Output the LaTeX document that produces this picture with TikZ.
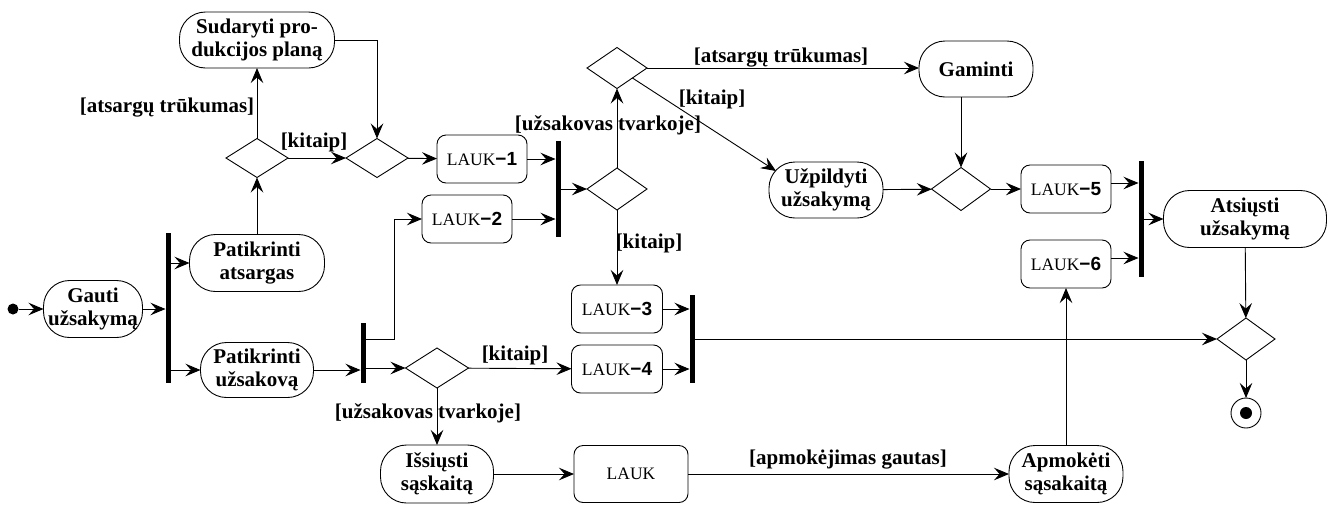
\documentclass[tikz,border=0pt]{standalone}
\usepackage{fontspec}
\setmainfont{Liberation Serif}
\newfontfamily\numfont{Liberation Sans}
\usetikzlibrary{arrows.meta,shapes.geometric,calc}

% waiting state label: serif word, sans number
\newcommand{\waitlabel}[1]{LAUK{\numfont\bfseries\fontsize{19}{20}\selectfont −#1}}

\begin{document}
\begin{tikzpicture}[x=1pt,y=-1pt,
  every node/.style={inner sep=0pt, outer sep=0pt},
  flow/.style={-{Stealth[length=15pt,width=12.5pt,inset=5.5pt]}, line width=0.9pt},
  act/.style={draw, line width=0.9pt, rounded corners=26pt, align=center,
    font=\bfseries\fontsize{21}{23}\selectfont},
  waitbox/.style={draw, line width=0.9pt, rounded corners=9pt,
    font=\fontsize{17.5}{20}\selectfont, minimum width=90pt, minimum height=48pt},
  choice/.style={draw, diamond, line width=0.9pt, minimum width=60pt, minimum height=41pt},
  syncbar/.style={fill=black, minimum width=5pt},
  guard/.style={font=\bfseries\fontsize{21}{23}\selectfont},
]
\useasboundingbox (0,0) rectangle (1337,504);

% start and end
\node[circle, fill=black, minimum size=11pt] (init) at (13,309) {};
\node[circle, draw, line width=0.9pt, minimum size=30pt] (fin) at (1246,413) {};
\node[circle, fill=black, minimum size=12pt] (finDot) at (1246,413) {};

% activities
\node[act, minimum width=99pt, minimum height=57pt] (gauti) at (93,309) {Gauti\\užsakymą};
\node[act, minimum width=135pt, minimum height=57pt] (patA) at (257,263) {Patikrinti\\atsargas};
\node[act, minimum width=113pt, minimum height=55pt] (patU) at (257,370) {Patikrinti\\užsakovą};
\node[act, minimum width=155pt, minimum height=56pt] (sud) at (257,40) {Sudaryti pro-\\dukcijos planą};
\node[act, minimum width=114pt, minimum height=56pt] (gam) at (976,69) {Gaminti};
\node[act, minimum width=114pt, minimum height=56pt] (uzp) at (826,190) {Užpildyti\\užsakymą};
\node[act, minimum width=163pt, minimum height=57pt] (ats) at (1245,219) {Atsiųsti\\užsakymą};
\node[act, minimum width=113pt, minimum height=58pt] (iss) at (437,474) {Išsiųsti\\sąskaitą};
\node[act, minimum width=114pt, minimum height=57pt] (apm) at (1066,474) {Apmokėti\\sąsakaitą};

% waiting states
\node[waitbox] (l1) at (482,159) {\waitlabel{1}};
\node[waitbox] (l2) at (467,219) {\waitlabel{2}};
\node[waitbox, minimum width=91pt] (l3) at (617,309) {\waitlabel{3}};
\node[waitbox, minimum width=91pt] (l4) at (617,369) {\waitlabel{4}};
\node[waitbox] (l5) at (1066,189) {\waitlabel{5}};
\node[waitbox] (l6) at (1066,264) {\waitlabel{6}};
\node[waitbox, minimum width=114pt, minimum height=57pt] (lauk) at (631,474) {LAUK};

% decisions
\node[choice, minimum width=62pt, minimum height=39pt] (d1) at (257,158) {};
\node[choice, minimum width=62pt, minimum height=39pt] (d2) at (377,158) {};
\node[choice, minimum height=42pt] (d3) at (617,189) {};
\node[choice] (d4) at (617,68) {};
\node[choice, minimum width=59pt, minimum height=43pt] (d5) at (961,189) {};
\node[choice, minimum width=63pt, minimum height=40pt] (d6) at (437,368) {};
\node[choice, minimum width=58pt, minimum height=42pt] (d8) at (1246,339) {};

% synchronisation bars
\node[syncbar, minimum height=150pt] (b1) at (168,308) {};
\node[syncbar, minimum height=60pt] (b2) at (363,353) {};
\node[syncbar, minimum height=96pt] (b3) at (558,189) {};
\node[syncbar, minimum height=88pt] (b5) at (692,339) {};
\node[syncbar, minimum height=116pt] (b7) at (1141,219) {};

% guards
\node[guard] (g1) at (167,108) {[atsargų trūkumas]};
\node[guard] (g2) at (314,142) {[kitaip]};
\node[guard] (g3) at (608,125) {[užsakovas tvarkoje]};
\node[guard] (g4) at (781,58) {[atsargų trūkumas]};
\node[guard] (g5) at (712,99) {[kitaip]};
\node[guard] (g6) at (649,243) {[kitaip]};
\node[guard] (g7) at (515,355) {[kitaip]};
\node[guard] (g8) at (428,413) {[užsakovas tvarkoje]};
\node[guard] (g9) at (848,460) {[apmokėjimas gautas]};

% transitions
\draw[flow] (init) -- (gauti);
\draw[flow] (gauti.east) -- (gauti.east -| b1.west);
\draw[flow] (patA.west -| b1.east) -- (patA.west);
\draw[flow] (patU.west -| b1.east) -- (patU.west);
\draw[flow] (patA) -- (d1);
\draw[flow] (d1) -- (sud);
\draw[flow] (d1) -- (d2);
\draw[flow] (sud.east) -| (d2.north);
\draw[flow] (d2) -- (l1);
\draw[flow] (l1.east) -- (l1.east -| b3.west);
\draw[flow] (patU.east) -- (patU.east -| b2.west);
\draw[flow] ([yshift=14pt]b2.east) -- ++(29,0) |- (l2.west);
\draw[flow] (l2.east) -- (l2.east -| b3.west);
\draw[flow] (b3.east |- d3.west) -- (d3.west);
\draw[flow] (d3) -- (d4);
\draw[flow] (d4.east) -- (d4.east -| gam.west);
\draw[flow] (d4) -- ($(uzp.north west)+(7,9)$);
\draw[flow] (gam.south -| d5.north) -- (d5.north);
\draw[flow] (uzp) -- (d5);
\draw[flow] (d5) -- (l5);
\draw[flow] ([yshift=6pt]l5.east) -- ([yshift=6pt]l5.east -| b7.west);
\draw[flow] ([yshift=6pt]l6.east) -- ([yshift=6pt]l6.east -| b7.west);
\draw[flow] (b7.east |- ats.west) -- (ats.west);
\draw[flow] (ats) -- (d8);
\draw[flow] (d8) -- (fin);
\draw[flow] (b2.east |- d6.west) -- (d6.west);
\draw[flow] (d6) -- (l4);
\draw[flow] (d6) -- (iss);
\draw[flow] (d3) -- (l3);
\draw[flow] (l3.east) -- (l3.east -| b5.west);
\draw[flow] (l4.east) -- (l4.east -| b5.west);
\draw[flow] (b5.east |- d8.west) -- (d8.west);
\draw[flow] (iss) -- (lauk);
\draw[flow] (lauk) -- (apm);
\draw[flow] (apm) -- (l6);
\end{tikzpicture}
\end{document}
